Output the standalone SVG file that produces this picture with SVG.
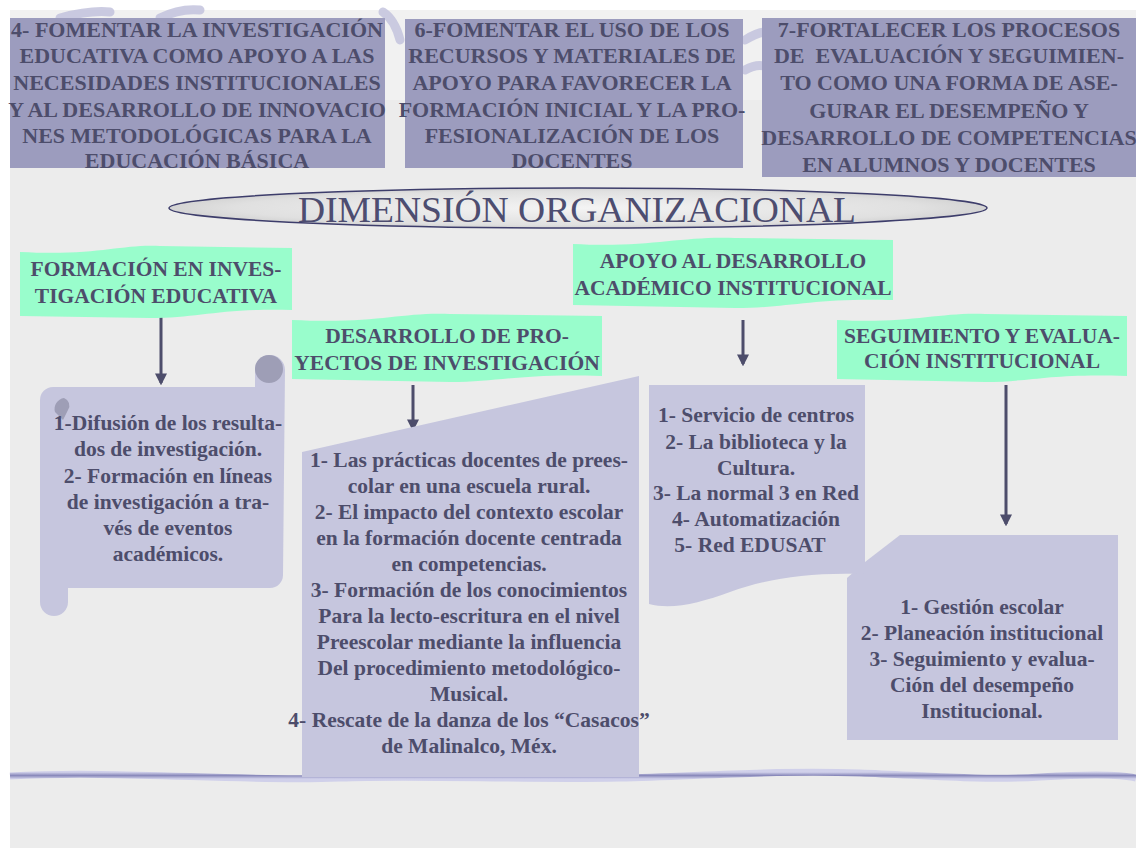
<svg xmlns="http://www.w3.org/2000/svg" width="1136" height="848" viewBox="0 0 1136 848">
<defs>
<style>
.top{fill:#9c9cbe}
.tt{font-family:"Liberation Serif","Times New Roman",serif;font-weight:bold;font-size:22px;fill:#4d4d6b;text-anchor:middle}
.ban{fill:#99fdcc}
.bt{font-family:"Liberation Serif","Times New Roman",serif;font-weight:bold;font-size:21.5px;fill:#4d4d6b;text-anchor:middle}
.nd{fill:#c6c6de}
.nt{font-family:"Liberation Serif","Times New Roman",serif;font-weight:bold;font-size:21.5px;fill:#4d4d6b;text-anchor:middle}
.arr{stroke:#4d4d6b;stroke-width:3;fill:none;marker-end:url(#ah)}
</style>
<marker id="ah" viewBox="0 0 10 10" refX="8" refY="5" markerWidth="4" markerHeight="4" orient="auto" markerUnits="strokeWidth">
<path d="M0,0 L10,5 L0,10 Z" fill="#4d4d6b"/>
</marker>
<radialGradient id="marble" cx="0.5" cy="0.5" r="0.6">
<stop offset="0" stop-color="#f4f4f4"/>
<stop offset="0.7" stop-color="#e0e0e0"/>
<stop offset="1" stop-color="#c4c4c4"/>
</radialGradient>
<linearGradient id="wave" x1="0" y1="0" x2="0" y2="1">
<stop offset="0" stop-color="#d0d0ea"/>
<stop offset="0.5" stop-color="#8a8abb"/>
<stop offset="1" stop-color="#d0d0ea"/>
</linearGradient>
</defs>

<rect x="0" y="0" width="1136" height="848" fill="#ffffff"/>
<rect x="10" y="10" width="1126" height="838" fill="#ececec"/>
<rect x="10" y="10" width="1126" height="90" fill="#f1f1f1"/>
<g fill="none" stroke="#c0c0dc" stroke-width="9" stroke-linecap="round" opacity="0.8">
<path d="M60,18 Q90,10 110,12"/>
<path d="M160,18 Q180,8 200,10"/>
<path d="M383,12 Q395,20 400,40"/>
<path d="M745,40 Q758,32 766,32"/>
<path d="M745,70 Q756,64 764,66"/>
</g>

<g id="wave-line">
<path d="M10,776 C120,770 240,782 340,778 C420,775 520,780 620,778 C700,776 780,770 860,773 C920,775 980,781 1040,777 C1090,774 1120,774 1136,778" fill="none" stroke="url(#wave)" stroke-width="7"/>
</g>

<g id="box4">
<rect class="top" x="10" y="18" width="375" height="150"/>
<text class="tt" x="197" y="37">4- FOMENTAR LA INVESTIGACIÓN</text>
<text class="tt" x="197" y="63">EDUCATIVA COMO APOYO A LAS</text>
<text class="tt" x="197" y="90">NECESIDADES INSTITUCIONALES</text>
<text class="tt" x="197" y="117">Y AL DESARROLLO DE INNOVACIO</text>
<text class="tt" x="197" y="143">NES METODOLÓGICAS PARA LA</text>
<text class="tt" x="197" y="168">EDUCACIÓN BÁSICA</text>
</g>

<g id="box6">
<rect class="top" x="405" y="19" width="338" height="149"/>
<text class="tt" x="572" y="37">6-FOMENTAR EL USO DE LOS</text>
<text class="tt" x="572" y="63">RECURSOS Y MATERIALES DE</text>
<text class="tt" x="572" y="90">APOYO PARA FAVORECER LA</text>
<text class="tt" x="572" y="117">FORMACIÓN INICIAL Y LA PRO-</text>
<text class="tt" x="572" y="143">FESIONALIZACIÓN DE LOS</text>
<text class="tt" x="572" y="168">DOCENTES</text>
</g>

<g id="box7">
<rect class="top" x="762" y="18" width="374" height="159"/>
<text class="tt" x="949" y="37">7-FORTALECER LOS PROCESOS</text>
<text class="tt" x="949" y="63" xml:space="preserve">DE  EVALUACIÓN Y SEGUIMIEN-</text>
<text class="tt" x="949" y="90">TO COMO UNA FORMA DE ASE-</text>
<text class="tt" x="949" y="118">GURAR EL DESEMPEÑO Y</text>
<text class="tt" x="949" y="145">DESARROLLO DE COMPETENCIAS</text>
<text class="tt" x="949" y="172">EN ALUMNOS Y DOCENTES</text>
</g>

<g id="title">
<ellipse cx="578" cy="208" rx="409" ry="20" fill="url(#marble)" stroke="#3d3d6b" stroke-width="1.5"/>
<text x="577" y="222" font-family="'Liberation Serif','Times New Roman',serif" font-size="36" fill="#4d4d70" text-anchor="middle" textLength="558" lengthAdjust="spacingAndGlyphs">DIMENSIÓN ORGANIZACIONAL</text>
</g>

<g id="connectors">
<line class="arr" x1="161" y1="311" x2="161" y2="383"/>
<line class="arr" x1="413" y1="385" x2="413" y2="429"/>
<line class="arr" x1="743" y1="320" x2="743" y2="364"/>
<line class="arr" x1="1006" y1="385" x2="1006" y2="524"/>
</g>

<g id="banner1">
<path class="ban" d="M20,252 C100,256 120,244 160,246 L292,248 L292,310 C220,308 200,318 150,318 L20,316 Z"/>
<text class="bt" x="156" y="276">FORMACIÓN EN INVES-</text>
<text class="bt" x="156" y="303">TIGACIÓN EDUCATIVA</text>
</g>

<g id="banner2">
<path class="ban" d="M292,320 C380,324 400,312 450,314 L602,316 L602,376 C520,373 500,382 450,382 L292,379 Z"/>
<text class="bt" x="447" y="343">DESARROLLO DE PRO-</text>
<text class="bt" x="447" y="370">YECTOS DE INVESTIGACIÓN</text>
</g>

<g id="banner3">
<path class="ban" d="M573,244 C650,248 680,236 735,238 L893,240 L893,300 C810,298 790,308 735,308 L573,305 Z"/>
<text class="bt" x="733" y="268">APOYO AL DESARROLLO</text>
<text class="bt" x="733" y="295">ACADÉMICO INSTITUCIONAL</text>
</g>

<g id="banner4">
<path class="ban" d="M837,320 C910,324 940,312 985,314 L1127,316 L1127,376 C1050,373 1030,382 985,382 L837,379 Z"/>
<text class="bt" x="982" y="343">SEGUIMIENTO Y EVALUA-</text>
<text class="bt" x="982" y="368">CIÓN INSTITUCIONAL</text>
</g>

<g id="node1">
<path class="nd" d="M255,387 L255,370 A15,15 0 0 1 285,370 L283,575 A13,13 0 0 1 270,588 L68,588 L68,602 A14,14 0 0 1 40,602 L40,400 A13,13 0 0 1 53,387 Z"/>
<circle cx="269" cy="369" r="14" fill="#9e9eb6"/>
<path d="M55,412 A11,11 0 0 1 64,398 A8,8 0 0 1 68,410 L63,420 Z" fill="#9e9eb6"/>
<text class="nt" x="168" y="430">1-Difusión de los resulta-</text>
<text class="nt" x="168" y="456">dos de investigación.</text>
<text class="nt" x="168" y="483">2- Formación en líneas</text>
<text class="nt" x="168" y="509">de investigación a tra-</text>
<text class="nt" x="168" y="535">vés de eventos</text>
<text class="nt" x="168" y="561">académicos.</text>
</g>

<g id="node2">
<path class="nd" d="M302,452 L639,376 L639,777 L302,777 Z"/>
<text class="nt" x="469" y="467">1- Las prácticas docentes de prees-</text>
<text class="nt" x="469" y="493">colar en una escuela rural.</text>
<text class="nt" x="469" y="519">2- El impacto del contexto escolar</text>
<text class="nt" x="469" y="545">en la formación docente centrada</text>
<text class="nt" x="469" y="571">en competencias.</text>
<text class="nt" x="469" y="597">3- Formación de los conocimientos</text>
<text class="nt" x="469" y="623">Para la lecto-escritura en el nivel</text>
<text class="nt" x="469" y="649">Preescolar mediante la influencia</text>
<text class="nt" x="469" y="675">Del procedimiento metodológico-</text>
<text class="nt" x="469" y="701">Musical.</text>
<text class="nt" x="469" y="727">4- Rescate de la danza de los “Casacos”</text>
<text class="nt" x="469" y="753">de Malinalco, Méx.</text>
</g>

<g id="node4">
<path class="nd" d="M900,535 L1118,535 L1118,740 L847,740 L847,578 L865,562 Z"/>
<text class="nt" x="982" y="614">1- Gestión escolar</text>
<text class="nt" x="982" y="640">2- Planeación institucional</text>
<text class="nt" x="982" y="666">3- Seguimiento y evalua-</text>
<text class="nt" x="982" y="692">Ción del desempeño</text>
<text class="nt" x="982" y="718">Institucional.</text>
</g>

<g id="node3">
<path class="nd" d="M649,385 L865,385 L865,574 C810,572 770,578 730,592 C700,603 672,610 649,604 Z"/>
<text class="nt" x="756" y="422">1- Servicio de centros</text>
<text class="nt" x="756" y="449">2- La biblioteca y la</text>
<text class="nt" x="756" y="475">Cultura.</text>
<text class="nt" x="756" y="500">3- La normal 3 en Red</text>
<text class="nt" x="756" y="526">4- Automatización</text>
<text class="nt" x="750" y="552">5- Red EDUSAT</text>
</g>
</svg>
